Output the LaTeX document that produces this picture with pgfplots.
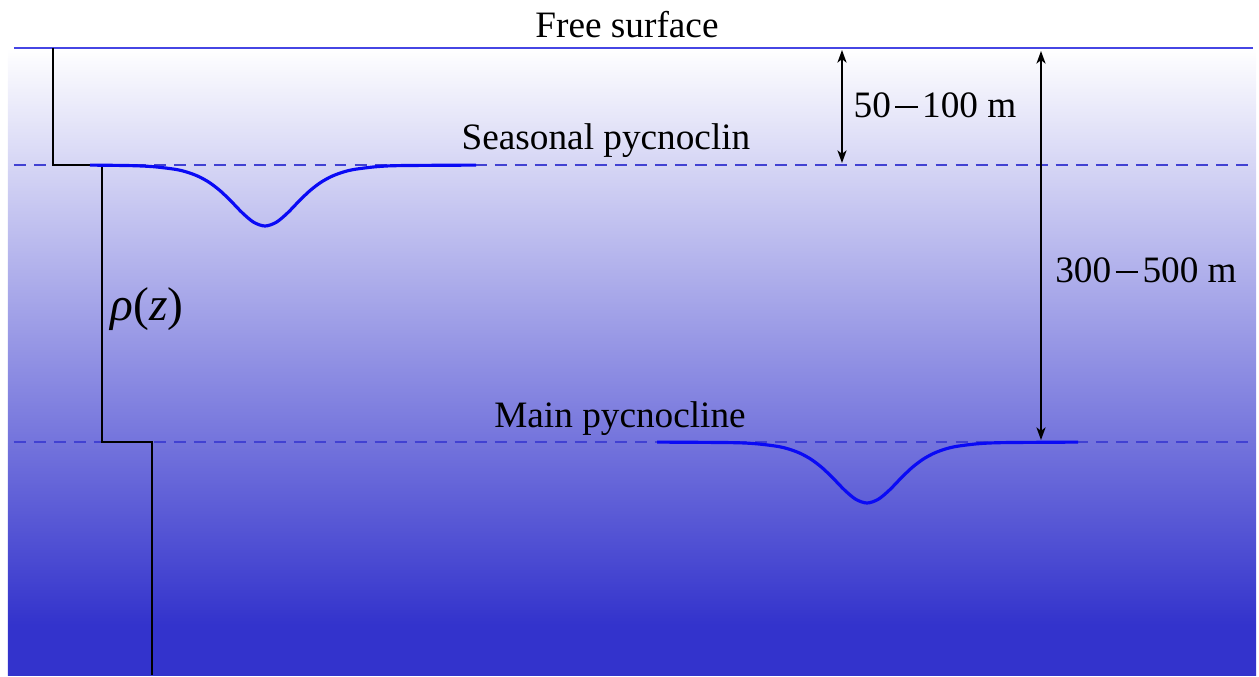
\documentclass[border=0pt]{standalone}
\usepackage{fontspec}
\setmainfont{Liberation Serif}
\usepackage{pgfplots}
\pgfplotsset{compat=1.18}
\usetikzlibrary{arrows.meta}
\definecolor{seablue}{RGB}{51,51,204}
\definecolor{lineblue}{RGB}{70,70,228}
\definecolor{dashblue}{RGB}{65,65,210}
\definecolor{waveblue}{RGB}{10,10,245}
\pgfdeclareverticalshading{sea}{100bp}{color(0bp)=(seablue); color(29bp)=(seablue); color(75bp)=(white); color(100bp)=(white)}
\newcommand{\mdash}{\hspace{0.12em}\raisebox{0.24em}{\rule{0.6em}{0.055em}}\hspace{0.12em}}
\begin{document}
\begin{tikzpicture}
\begin{axis}[
  scale only axis, width=124.8mm, height=62.7mm,
  xmin=8, xmax=1256, ymin=-675, ymax=-48,
  hide axis, clip=false,
  axis background/.style={shading=sea},
]
% bounding box of the whole picture
\path (axis cs:0,0) rectangle (axis cs:1259,-675);
% free surface and pycnocline levels
\addplot[lineblue, line width=0.5pt] coordinates {(14,-48) (1253,-48)};
\addplot[dashblue, line width=0.55pt, dash pattern=on 3.4pt off 2.3pt] coordinates {(14,-165) (1253,-165)};
\addplot[dashblue, line width=0.55pt, dash pattern=on 3.4pt off 2.3pt] coordinates {(14,-442) (1253,-442)};
% density profile
\addplot[black, line width=0.6pt] coordinates {(53,-48) (53,-165) (102,-165) (102,-442) (152,-442) (152,-675)};
% seasonal pycnocline wave
\addplot[waveblue, line width=0.9pt, smooth] coordinates {
(90,-165.1) (130,-165.6) (153.5,-166.7) (175,-169.3) (186.25,-171.9) (197.5,-176.0)
(208.75,-182.1) (220,-190.6) (231.25,-201.4) (242.5,-213.0) (253.75,-222.3) (265,-226)
(276.25,-222.3) (287.5,-213.0) (298.75,-201.4) (310,-190.6) (321.25,-182.1) (332.5,-176.0)
(343.75,-171.9) (355,-169.3) (376.5,-166.7) (400,-165.6) (476,-165.1)};
% main pycnocline wave
\addplot[waveblue, line width=0.9pt, smooth] coordinates {
(657,-442.1) (730,-442.6) (755.5,-443.7) (777,-446.3) (788.25,-448.9) (799.5,-453.0)
(810.75,-459.1) (822,-467.6) (833.25,-478.4) (844.5,-490.0) (855.75,-499.3) (867,-503)
(878.25,-499.3) (889.5,-490.0) (900.75,-478.4) (912,-467.6) (923.25,-459.1) (934.5,-453.0)
(945.75,-448.9) (957,-446.3) (978.5,-443.7) (1004,-442.6) (1078,-442.1)};
% depth arrows
\addplot[black, line width=0.45pt, {Stealth[length=3.6pt,width=2.6pt,inset=1pt]}-{Stealth[length=3.6pt,width=2.6pt,inset=1pt]}] coordinates {(842,-50) (842,-163)};
\addplot[black, line width=0.45pt, {Stealth[length=3.6pt,width=2.6pt,inset=1pt]}-{Stealth[length=3.6pt,width=2.6pt,inset=1pt]}] coordinates {(1041,-51) (1041,-440)};
% labels
\node[font=\fontsize{10.6}{12}\selectfont] at (axis cs:627,-25) {Free surface};
\node[font=\fontsize{10.6}{12}\selectfont] at (axis cs:606,-141) {Seasonal pycnoclin};
\node[font=\fontsize{10.6}{12}\selectfont] at (axis cs:620,-419) {Main pycnocline};
\node[font=\fontsize{10.6}{12}\selectfont] at (axis cs:935,-105) {50\mdash100 m};
\node[font=\fontsize{10.6}{12}\selectfont] at (axis cs:1146,-270) {300\mdash500 m};
\node[font=\fontsize{13.5}{15}\selectfont] at (axis cs:147,-309) {\textit{ρ}(\textit{z})};
\end{axis}
\end{tikzpicture}
\end{document}
